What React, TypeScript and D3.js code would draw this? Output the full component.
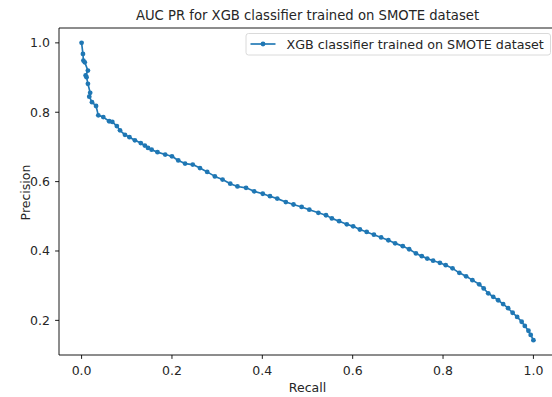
import React, { useEffect, useRef } from 'react'
import * as d3 from 'd3'

// values
const recall = [
  0.000, 0.003, 0.004, 0.007, 0.014, 0.009, 0.011, 0.014, 0.019, 0.017, 0.023, 0.032,
  0.037, 0.048, 0.061, 0.068, 0.078, 0.085, 0.096, 0.106, 0.118, 0.131, 0.140, 0.147,
  0.155, 0.168, 0.185, 0.200, 0.214, 0.229, 0.246, 0.262, 0.278, 0.295, 0.312, 0.329,
  0.345, 0.364, 0.382, 0.401, 0.417, 0.433, 0.452, 0.469, 0.487, 0.504, 0.524, 0.541,
  0.554, 0.570, 0.587, 0.601, 0.616, 0.631, 0.647, 0.663, 0.679, 0.694, 0.711, 0.725,
  0.740, 0.753, 0.765, 0.778, 0.793, 0.806, 0.821, 0.836, 0.851, 0.865, 0.880, 0.890,
  0.900, 0.911, 0.922, 0.933, 0.944, 0.954, 0.964, 0.974, 0.981, 0.989, 0.994, 1.000,
]
const precision = [
  1.000, 0.968, 0.949, 0.944, 0.920, 0.906, 0.901, 0.882, 0.856, 0.845, 0.829, 0.818,
  0.791, 0.786, 0.774, 0.772, 0.760, 0.748, 0.735, 0.728, 0.719, 0.711, 0.704, 0.697,
  0.692, 0.685, 0.678, 0.673, 0.661, 0.652, 0.649, 0.639, 0.628, 0.615, 0.606, 0.594,
  0.586, 0.582, 0.572, 0.565, 0.558, 0.551, 0.541, 0.534, 0.527, 0.519, 0.510, 0.503,
  0.494, 0.486, 0.477, 0.471, 0.462, 0.455, 0.447, 0.439, 0.431, 0.422, 0.414, 0.405,
  0.393, 0.385, 0.378, 0.372, 0.366, 0.359, 0.350, 0.337, 0.327, 0.316, 0.304, 0.292,
  0.278, 0.268, 0.258, 0.247, 0.235, 0.222, 0.210, 0.196, 0.184, 0.170, 0.158, 0.143,
]
const xTicks = [0, 0.2, 0.4, 0.6, 0.8, 1.0]
const yTicks = [0.2, 0.4, 0.6, 0.8, 1.0]
const title = 'AUC PR for XGB classifier trained on SMOTE dataset'
const seriesName = 'XGB classifier trained on SMOTE dataset'

export default function App() {
  const ref = useRef<SVGSVGElement | null>(null)
  useEffect(() => {
    if (!ref.current) return
    const width = 552, height = 397
    const svg = d3.select(ref.current)
    svg.selectAll('*').remove()
    const m = { left: 59, top: 28, right: 556, bottom: 355 }
    const color = '#1f77b4'
    const font = 'DejaVu Sans'
    const fs = 12.5
    const ink = '#262626'
    const pad = (lo: number, hi: number) => [lo - (hi - lo) * 0.05, hi + (hi - lo) * 0.05]
    const x = d3.scaleLinear().domain(pad(d3.min(recall)!, d3.max(recall)!)).range([m.left, m.right])
    const y = d3.scaleLinear().domain(pad(d3.min(precision)!, d3.max(precision)!)).range([m.bottom, m.top])
    const data = recall.map((r, i) => [r, precision[i]] as [number, number])

    svg.append('rect').attr('width', width).attr('height', height).attr('fill', '#fff')

    const plot = svg.append('g')
    plot.append('path').datum(data)
      .attr('d', d3.line().x(d => x(d[0])).y(d => y(d[1])))
      .attr('fill', 'none').attr('stroke', color).attr('stroke-width', 1.65)
      .attr('stroke-linejoin', 'round')
    plot.selectAll('circle').data(data).enter().append('circle')
      .attr('cx', d => x(d[0])).attr('cy', d => y(d[1])).attr('r', 2.4).attr('fill', color)

    // spines
    const sp = svg.append('g').attr('stroke', '#000').attr('stroke-width', 0.9)
    sp.append('line').attr('x1', m.left).attr('x2', m.left).attr('y1', m.top).attr('y2', m.bottom)
    sp.append('line').attr('x1', m.left).attr('x2', m.right).attr('y1', m.bottom).attr('y2', m.bottom)
    sp.append('line').attr('x1', m.left).attr('x2', m.right).attr('y1', m.top).attr('y2', m.top)
    sp.append('line').attr('x1', m.right).attr('x2', m.right).attr('y1', m.top).attr('y2', m.bottom)

    xTicks.forEach(t => {
      svg.append('line').attr('x1', x(t)).attr('x2', x(t)).attr('y1', m.bottom).attr('y2', m.bottom + 3.9)
        .attr('stroke', '#000').attr('stroke-width', 0.9)
      svg.append('text').text(t.toFixed(1)).attr('x', x(t)).attr('y', m.bottom + 20)
        .attr('text-anchor', 'middle').attr('font-family', font).attr('font-size', fs).attr('fill', ink)
    })
    yTicks.forEach(t => {
      svg.append('line').attr('x1', m.left - 3.9).attr('x2', m.left).attr('y1', y(t)).attr('y2', y(t))
        .attr('stroke', '#000').attr('stroke-width', 0.9)
      svg.append('text').text(t.toFixed(1)).attr('x', m.left - 9).attr('y', y(t) + 4.5)
        .attr('text-anchor', 'end').attr('font-family', font).attr('font-size', fs).attr('fill', ink)
    })

    svg.append('text').text('Recall').attr('x', (m.left + m.right) / 2).attr('y', 392)
      .attr('text-anchor', 'middle').attr('font-family', font).attr('font-size', fs).attr('fill', ink)
    svg.append('text').text('Precision')
      .attr('transform', `translate(30,${(m.top + m.bottom) / 2 + 1}) rotate(-90)`)
      .attr('text-anchor', 'middle').attr('font-family', font).attr('font-size', fs).attr('fill', ink)
    svg.append('text').text(title).attr('x', (m.left + m.right) / 2).attr('y', 20)
      .attr('text-anchor', 'middle').attr('font-family', font).attr('font-size', 13.2).attr('fill', ink)

    // legend
    const lg = svg.append('g')
    lg.append('rect').attr('x', 246).attr('y', 33.5).attr('width', 304.5).attr('height', 21.5).attr('rx', 2.5)
      .attr('fill', '#fff').attr('stroke', '#d6d6d6').attr('stroke-width', 0.9)
    lg.append('line').attr('x1', 250.5).attr('x2', 275.5).attr('y1', 44).attr('y2', 44)
      .attr('stroke', color).attr('stroke-width', 1.65)
    lg.append('circle').attr('cx', 263).attr('cy', 44).attr('r', 2.4).attr('fill', color)
    lg.append('text').text(seriesName).attr('x', 286.5).attr('y', 48.5)
      .attr('font-family', font).attr('font-size', 12.7).attr('fill', ink)
  }, [])
  return <svg ref={ref} width={552} height={397} style={{ position: 'absolute', left: 0, top: 0 }} />
}
